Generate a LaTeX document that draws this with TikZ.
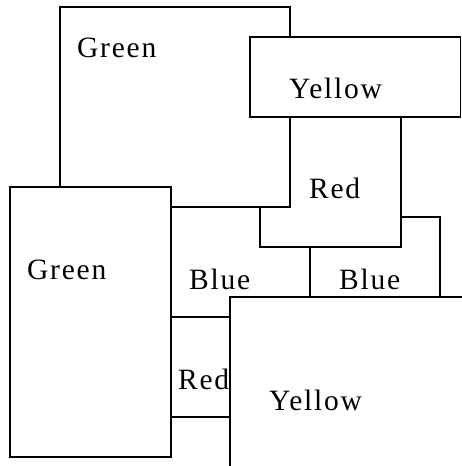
\documentclass[tikz,border=0pt]{standalone}
\usepackage{fontspec}
\setmainfont[LetterSpace=6]{Liberation Serif}
\tikzset{
  panel/.style={draw=black, fill=white, line width=1.6pt},
  lbl/.style={anchor=base west, inner sep=0pt, font=\fontsize{29.5}{32}\selectfont}
}
\begin{document}
\begin{tikzpicture}[x=1pt, y=-1pt]
\useasboundingbox (0,0) rectangle (462,466);
\clip (0,0) rectangle (462,466);
% Blue (middle)
\path[panel] (171,207) rectangle (310,317);
\node[lbl] (tb1) at (189,289) {Blue};
% Blue (right)
\path[panel] (310,217) rectangle (440,297);
\node[lbl] (tb2) at (339,289) {Blue};
% Red (top)
\path[panel] (260,117) rectangle (401,247);
\node[lbl] (tr1) at (309,198) {Red};
% Green (top)
\path[panel] (60,7) rectangle (290,207);
\node[lbl] (tg1) at (77,57) {Green};
% Yellow (top)
\path[panel] (250,37) rectangle (460.5,117);
\node[lbl] (ty1) at (289,98) {Yellow};
% Green (lower)
\path[panel] (10,187) rectangle (171,457);
\node[lbl] (tg2) at (27,279) {Green};
% Red (lower)
\path[panel] (171,317) rectangle (270,417);
\node[lbl] (tr2) at (178,389) {Red};
% Yellow (lower)
\path[panel] (230,297) rectangle (480,490);
\node[lbl] (ty2) at (269,410) {Yellow};
\end{tikzpicture}
\end{document}
